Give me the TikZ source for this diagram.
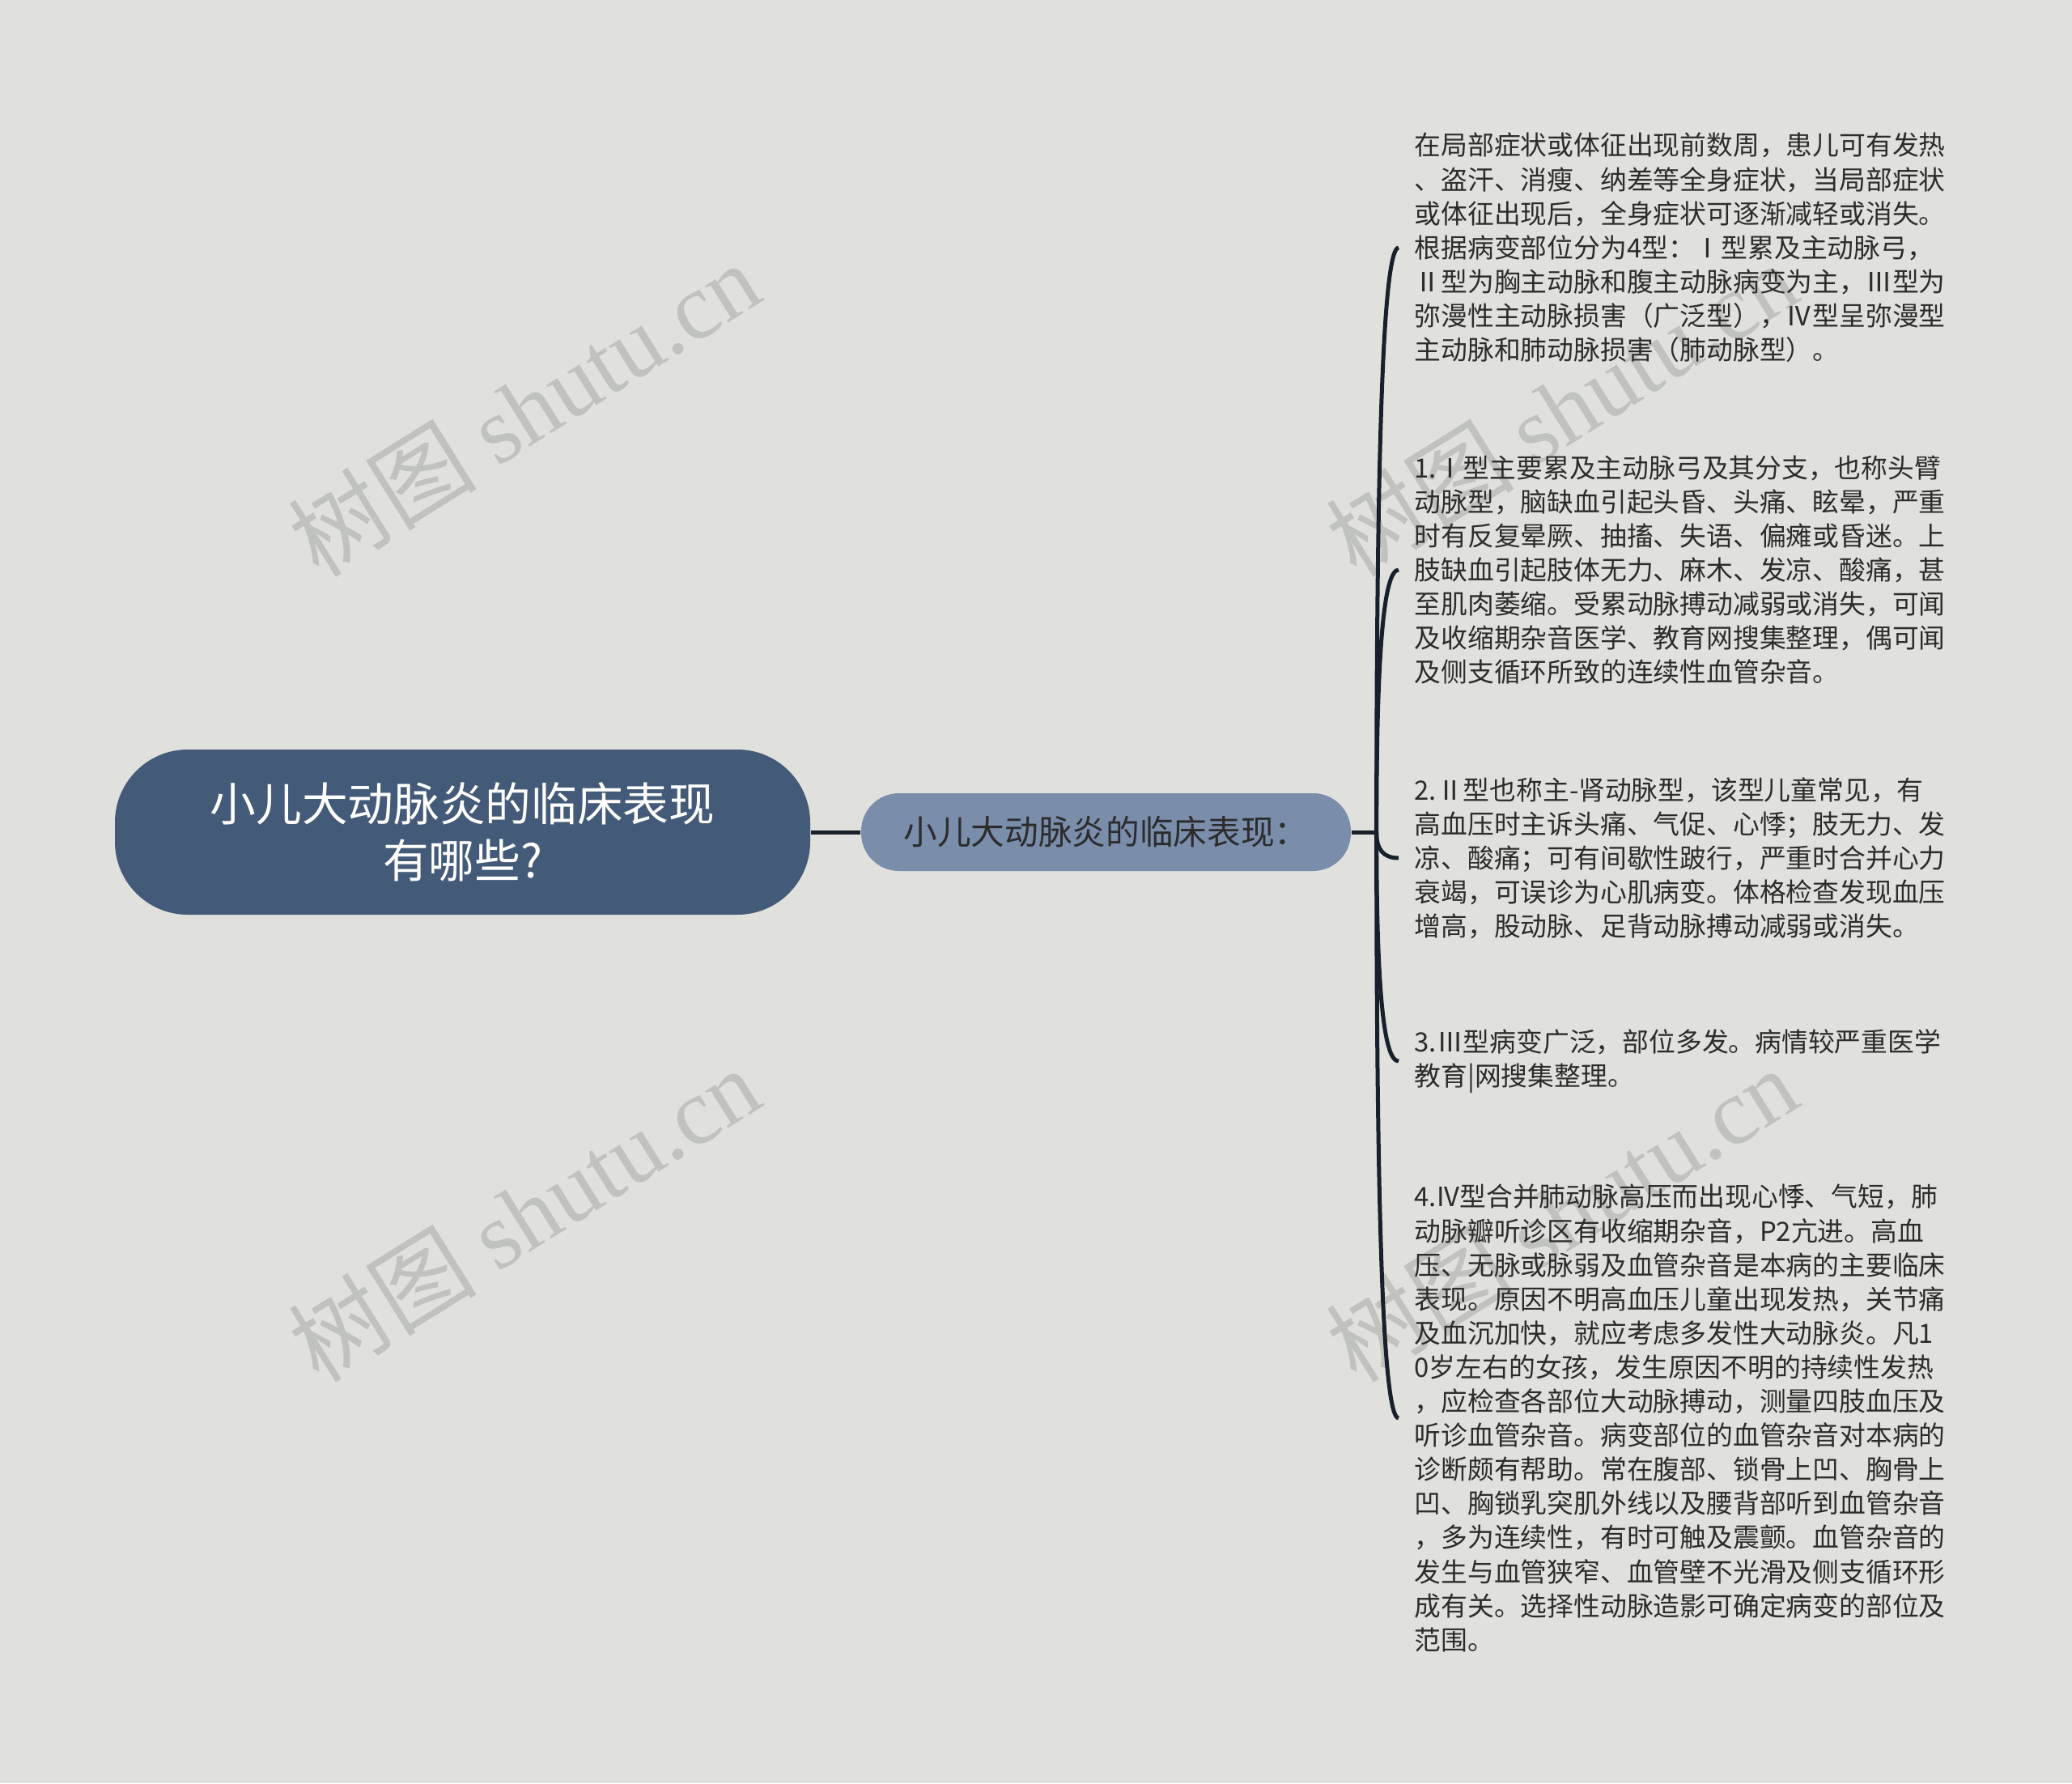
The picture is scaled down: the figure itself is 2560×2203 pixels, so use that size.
\documentclass[tikz,border=0pt]{standalone}
\usepackage{fontspec}
\setmainfont{Noto Sans CJK SC}
\newfontfamily\markfont{Liberation Serif}
\usepackage{tikz}
\usetikzlibrary{positioning,calc}

\definecolor{bgcol}{RGB}{224,225,220}
\definecolor{rootcol}{RGB}{67,90,120}
\definecolor{subcol}{RGB}{122,141,171}
\definecolor{linecol}{RGB}{24,32,44}
\definecolor{textcol}{RGB}{44,44,44}
\definecolor{markcol}{RGB}{192,194,189}

\tikzset{
	rootnode/.style={fill=rootcol, text=white, rounded corners=27pt, minimum width=257.7pt, minimum height=61.2pt, align=center, font=\fontsize{17}{21}\selectfont},
	subnode/.style={fill=subcol, text=textcol, rounded corners=14pt, minimum width=181.5pt, minimum height=28.8pt, font=\fontsize{12.5}{15}\selectfont},
	leaf/.style={anchor=west, align=left, inner xsep=5.7pt, inner ysep=0pt, text=textcol, font=\fontsize{9.84}{12.63}\selectfont},
	link/.style={color=linecol, line width=1.5pt},
	curl/.style={to path={.. controls ($(\tikztostart)!.667!(\tikztostart |- \tikztotarget)$) and ($(\tikztotarget)+(-19,0)$) .. (\tikztotarget)}},
	wmark/.style={text=markcol, rotate=32, font=\fontsize{35}{38}\selectfont}
}

\begin{document}
\begin{tikzpicture}[x=0.3pt, y=-0.3pt]
\fill[bgcol] (0,0) rectangle (2560,2203);
% watermarks
\foreach \wx/\wy [count=\i] in {647/505, 647/1500, 1929/505, 1929/1500}
	\node[wmark] (mark\i) at (\wx,\wy) {树图 {\markfont shutu.cn}};

\node[rootnode] (root) at (571.5,1028) {小儿大动脉炎的临床表现\\有哪些?};
\node[subnode] (sub) at (1366.5,1028) {小儿大动脉炎的临床表现：};
\coordinate (jn) at ($(sub.east)+(31,0)$);

% leaves
\node[leaf] (general) at (1728,306) {在局部症状或体征出现前数周，患儿可有发热\\、盗汗、消瘦、纳差等全身症状，当局部症状\\或体征出现后，全身症状可逐渐减轻或消失。\\根据病变部位分为4型：Ⅰ型累及主动脉弓，\\Ⅱ型为胸主动脉和腹主动脉病变为主，Ⅲ型为\\弥漫性主动脉损害（广泛型），Ⅳ型呈弥漫型\\主动脉和肺动脉损害（肺动脉型）。};
\node[leaf] (type1) at (1728,704) {1.Ⅰ型主要累及主动脉弓及其分支，也称头臂\\动脉型，脑缺血引起头昏、头痛、眩晕，严重\\时有反复晕厥、抽搐、失语、偏瘫或昏迷。上\\肢缺血引起肢体无力、麻木、发凉、酸痛，甚\\至肌肉萎缩。受累动脉搏动减弱或消失，可闻\\及收缩期杂音医学、教育网搜集整理，偶可闻\\及侧支循环所致的连续性血管杂音。};
\node[leaf] (type2) at (1728,1060) {2.Ⅱ型也称主-肾动脉型，该型儿童常见，有\\高血压时主诉头痛、气促、心悸；肢无力、发\\凉、酸痛；可有间歇性跛行，严重时合并心力\\衰竭，可误诊为心肌病变。体格检查发现血压\\增高，股动脉、足背动脉搏动减弱或消失。};
\node[leaf] (type3) at (1728,1311) {3.Ⅲ型病变广泛，部位多发。病情较严重医学\\教育|网搜集整理。};
\node[leaf] (type4) at (1728,1752) {4.IV型合并肺动脉高压而出现心悸、气短，肺\\动脉瓣听诊区有收缩期杂音，P2亢进。高血\\压、无脉或脉弱及血管杂音是本病的主要临床\\表现。原因不明高血压儿童出现发热，关节痛\\及血沉加快，就应考虑多发性大动脉炎。凡1\\0岁左右的女孩，发生原因不明的持续性发热\\，应检查各部位大动脉搏动，测量四肢血压及\\听诊血管杂音。病变部位的血管杂音对本病的\\诊断颇有帮助。常在腹部、锁骨上凹、胸骨上\\凹、胸锁乳突肌外线以及腰背部听到血管杂音\\，多为连续性，有时可触及震颤。血管杂音的\\发生与血管狭窄、血管壁不光滑及侧支循环形\\成有关。选择性动脉造影可确定病变的部位及\\范围。};

\path[link]
(root) edge (sub)
(sub) edge (jn)
(jn) edge[curl] (general.west)
(jn) edge[curl] (type1.west)
(jn) edge[curl] (type2.west)
(jn) edge[curl] (type3.west)
(jn) edge[curl] (type4.west)
;
\end{tikzpicture}
\end{document}
